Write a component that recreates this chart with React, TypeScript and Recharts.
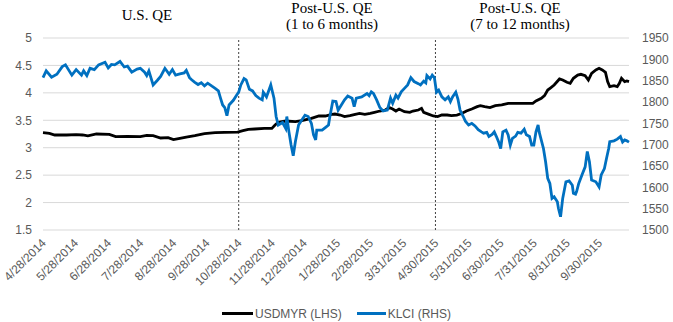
import React from 'react';
import { LineChart, Line, XAxis, YAxis, CartesianGrid, ReferenceLine, Legend } from 'recharts';

// x positions are calendar days counted from the first date on the axis
const tickLabels = [
  '4/28/2014', '5/28/2014', '6/28/2014', '7/28/2014', '8/28/2014', '9/28/2014',
  '10/28/2014', '11/28/2014', '12/28/2014', '1/28/2015', '2/28/2015', '3/31/2015',
  '4/30/2015', '5/31/2015', '6/30/2015', '7/31/2015', '8/31/2015', '9/30/2015',
];
const lastDate = '10/28/2015';
const phaseBreaks = ['10/28/2014', '4/30/2015'];

const usdDays = [
  0, 6, 11, 22, 31, 37, 42, 50, 62, 68, 79, 91, 97, 103, 110, 117, 122, 128, 134, 142,
  151, 161, 170, 182, 187, 192, 198, 207, 214, 217, 220, 227, 236, 242, 251, 258, 264, 270, 273, 278,
  282, 287, 292, 296, 301, 306, 310, 315, 320, 324, 327, 330, 333, 338, 343, 346, 351, 354, 356, 361,
  365, 369, 373, 378, 382, 387, 392, 396, 401, 406, 409, 413, 418, 423, 429, 435, 447, 458, 461, 466,
  469, 472, 475, 478, 483, 486, 490, 493, 496, 500, 503, 507, 510, 513, 517, 520, 523, 526, 528, 530,
  534, 537, 539, 541, 544, 546, 548,
];
const usdmyr = [
  3.274, 3.262, 3.232, 3.232, 3.238, 3.232, 3.215, 3.25, 3.244, 3.201, 3.207, 3.201, 3.226, 3.22, 3.177, 3.183, 3.147, 3.171, 3.195, 3.219,
  3.256, 3.274, 3.28, 3.286, 3.311, 3.335, 3.341, 3.353, 3.353, 3.414, 3.463, 3.487, 3.475, 3.493, 3.535, 3.578, 3.578, 3.608, 3.614, 3.596,
  3.566, 3.584, 3.608, 3.627, 3.608, 3.627, 3.645, 3.669, 3.687, 3.73, 3.706, 3.669, 3.706, 3.657, 3.645, 3.669, 3.687, 3.718, 3.645, 3.608,
  3.578, 3.566, 3.596, 3.596, 3.584, 3.596, 3.627, 3.669, 3.706, 3.748, 3.766, 3.748, 3.73, 3.766, 3.779, 3.809, 3.809, 3.809, 3.852, 3.9,
  3.949, 4.052, 4.095, 4.143, 4.253, 4.234, 4.192, 4.174, 4.265, 4.325, 4.338, 4.313, 4.234, 4.356, 4.417, 4.447, 4.417, 4.374, 4.204, 4.113,
  4.131, 4.113, 4.174, 4.265, 4.204, 4.216, 4.204,
];

const klciDays = [
  0, 3, 8, 13, 18, 21, 27, 31, 36, 38, 41, 44, 48, 52, 58, 61, 64, 67, 72, 76,
  79, 83, 88, 91, 95, 97, 99, 103, 107, 110, 114, 118, 121, 124, 128, 132, 134, 137, 139, 142,
  145, 148, 151, 154, 158, 161, 164, 166, 168, 170, 172, 174, 178, 181, 183, 185, 188, 190, 193, 196,
  199, 202, 205, 206, 209, 213, 216, 218, 220, 224, 227, 228, 230, 232, 234, 236, 239, 242, 245, 248,
  251, 253, 255, 256, 261, 264, 267, 268, 271, 274, 276, 279, 282, 285, 289, 291, 293, 298, 303, 305,
  307, 309, 312, 315, 318, 322, 325, 327, 330, 332, 335, 338, 341, 344, 347, 351, 353, 356, 358, 359,
  362, 364, 366, 368, 370, 373, 376, 379, 381, 383, 386, 388, 390, 393, 395, 398, 401, 404, 407, 410,
  412, 415, 417, 420, 422, 424, 426, 428, 430, 433, 435, 437, 439, 442, 444, 447, 450, 452, 455, 457,
  459, 461, 463, 464, 468, 470, 472, 474, 476, 478, 481, 482, 484, 486, 489, 492, 495, 496, 498, 499,
  501, 504, 507, 509, 511, 513, 517, 520, 522, 525, 527, 529, 530, 534, 537, 540, 542, 544, 546, 548,
];
const klci = [
  1857, 1873, 1858, 1865, 1883, 1887, 1863, 1876, 1863, 1873, 1862, 1879, 1876, 1887, 1893, 1880, 1888, 1887, 1895, 1882,
  1884, 1870, 1877, 1879, 1870, 1862, 1873, 1840, 1851, 1860, 1879, 1865, 1876, 1863, 1866, 1868, 1874, 1857, 1852, 1846,
  1841, 1845, 1838, 1844, 1837, 1832, 1826, 1809, 1793, 1787, 1768, 1793, 1804, 1816, 1823, 1840, 1855, 1852, 1830, 1826,
  1815, 1809, 1805, 1823, 1812, 1840, 1809, 1766, 1746, 1752, 1738, 1766, 1730, 1699, 1674, 1707, 1746, 1758, 1769, 1766,
  1750, 1723, 1711, 1734, 1734, 1740, 1746, 1762, 1802, 1801, 1781, 1793, 1805, 1814, 1809, 1789, 1809, 1812, 1820, 1815,
  1824, 1820, 1805, 1787, 1779, 1781, 1809, 1797, 1816, 1809, 1824, 1832, 1840, 1857, 1848, 1843, 1840, 1849, 1845, 1862,
  1854, 1863, 1857, 1823, 1828, 1812, 1805, 1812, 1801, 1812, 1823, 1807, 1781, 1766, 1755, 1746, 1750, 1744, 1735, 1730,
  1727, 1729, 1719, 1724, 1730, 1719, 1707, 1691, 1730, 1734, 1723, 1699, 1715, 1720, 1729, 1727, 1736, 1723, 1719, 1699,
  1699, 1730, 1746, 1730, 1691, 1660, 1621, 1609, 1574, 1578, 1566, 1551, 1531, 1574, 1613, 1615, 1605, 1586, 1584, 1590,
  1609, 1629, 1648, 1684, 1660, 1617, 1613, 1601, 1629, 1644, 1668, 1691, 1707, 1709, 1713, 1719, 1706, 1711, 1709, 1706,
];

const leftTicks = [1.5, 2, 2.5, 3, 3.5, 4, 4.5, 5];
const rightTicks = [1500, 1550, 1600, 1650, 1700, 1750, 1800, 1850, 1900, 1950];

const periods = [
  { lines: ['U.S. QE'], center: 147, top: 7 },
  { lines: ['Post-U.S. QE', '(1 to 6 months)'], center: 332, top: 0 },
  { lines: ['Post-U.S. QE', '(7 to 12 months)'], center: 520, top: 0 },
];

const START = Date.UTC(2014, 3, 28);
const dayOf = (s: string) => {
  const [m, d, y] = s.split('/').map(Number);
  return Math.round((Date.UTC(y, m - 1, d) - START) / 86400000);
};

const tickDays = tickLabels.map(dayOf);
const usdData = usdDays.map((day, i) => ({ day, value: usdmyr[i] }));
const klciData = klciDays.map((day, i) => ({ day, value: klci[i] }));

const GREY = '#595959';
const FONT = '"Liberation Sans", Arial, sans-serif';

const DateTick = (props: any) => {
  const { x, y, payload } = props;
  const idx = tickDays.indexOf(payload.value);
  return (
    <g transform={`translate(${x + 1},${y + 3})`}>
      <text x={0} y={0} dy={4} textAnchor="end" fill={GREY} fontSize={12} fontFamily={FONT} transform="rotate(-45)">
        {idx >= 0 ? tickLabels[idx] : ''}
      </text>
    </g>
  );
};

const LegendBox = () => (
  <div style={{ height: 30, paddingTop: 13, boxSizing: 'border-box', display: 'flex', justifyContent: 'center',
    fontFamily: FONT, fontSize: 12, color: GREY, lineHeight: '14px' }}>
    <span style={{ display: 'flex', alignItems: 'center', marginRight: 15 }}>
      <span style={{ width: 31, height: 3, background: '#000', marginRight: 2 }} />
      USDMYR (LHS)
    </span>
    <span style={{ display: 'flex', alignItems: 'center' }}>
      <span style={{ width: 29, height: 3, background: '#0070C0', marginRight: 2 }} />
      KLCI (RHS)
    </span>
  </div>
);

export default function App() {
  return (
    <div style={{ position: 'absolute', left: 0, top: 0, width: 673, height: 322, background: '#fff' }}>
      {periods.map((p, i) => (
        <div key={i} style={{ position: 'absolute', left: p.center - 100, top: p.top, width: 200, textAlign: 'center',
          fontFamily: '"Liberation Serif", "Times New Roman", serif', fontSize: 15, lineHeight: '16px', color: '#000' }}>
          {p.lines.map((l) => <div key={l}>{l}</div>)}
        </div>
      ))}
      <LineChart width={673} height={322} margin={{ top: 38, right: 0, bottom: 0, left: 0 }}>
        <CartesianGrid vertical={false} stroke="#D9D9D9" />
        <XAxis type="number" dataKey="day" domain={[0, dayOf(lastDate)]} ticks={tickDays} interval={0}
          tick={<DateTick />} tickLine={false} axisLine={false} height={62} allowDuplicatedCategory={false} />
        <YAxis domain={[1.5, 5]} ticks={leftTicks} width={43} tickLine={false} axisLine={false} tickMargin={5}
          tick={{ fill: GREY, fontSize: 12, fontFamily: FONT }} />
        <YAxis yAxisId="right" orientation="right" domain={[1500, 1950]} ticks={rightTicks} width={44}
          tickLine={false} axisLine={false} tickMargin={7} tick={{ fill: GREY, fontSize: 12, fontFamily: FONT }} />
        {phaseBreaks.map((b) => (
          <ReferenceLine key={b} x={dayOf(b)} stroke="#404040" strokeDasharray="2 2" strokeWidth={1} />
        ))}
        <Legend verticalAlign="bottom" content={<LegendBox />} />
        <Line data={usdData} dataKey="value" name="USDMYR (LHS)" stroke="#000" strokeWidth={2.8} dot={false}
          type="linear" isAnimationActive={false} />
        <Line data={klciData} dataKey="value" name="KLCI (RHS)" yAxisId="right" stroke="#0070C0" strokeWidth={2.8}
          dot={false} type="linear" isAnimationActive={false} />
      </LineChart>
    </div>
  );
}
